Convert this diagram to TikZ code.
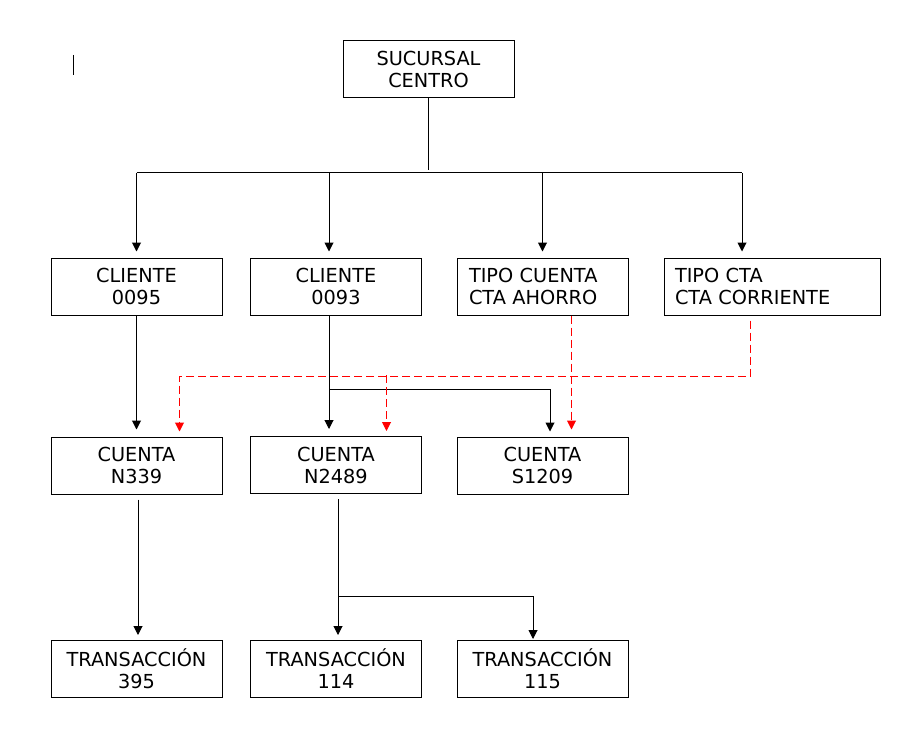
\documentclass[tikz,border=0pt]{standalone}
\usepackage{fontspec}
\setmainfont{DejaVu Sans}
\usetikzlibrary{arrows.meta,positioning,calc}

\tikzset{
  caja/.style={draw,line width=1pt,minimum width=171pt,minimum height=57pt,
    align=center,inner sep=0pt,font=\fontsize{19.3}{22}\selectfont},
  linea/.style={line width=1pt},
  flecha/.style={line width=1pt,-{Triangle[width=9pt,length=9pt]}},
  rojo/.style={flecha,red,dash pattern=on 8pt off 4pt}
}

\begin{document}
\begin{tikzpicture}[x=1pt,y=-1pt]
	  	\useasboundingbox (0,0) rectangle (923,730);
	  	% cajas
	  	\node[caja] (sucursal) at (428.5,69.5) {SUCURSAL\\CENTRO};
	  	\node[caja] (cli95) at (136.5,286.5) {CLIENTE\\0095};
	  	\node[caja] (cli93) at (336,286.5) {CLIENTE\\0093};
	  	\node[caja,text width=147pt,align=left] (tipoah) at (542.5,286.5) {TIPO CUENTA\\CTA AHORRO};
	  	\node[caja,minimum width=216pt,text width=194pt,align=left] (tipocc) at (772,286.5) {TIPO CTA\\CTA CORRIENTE};
	  	\node[caja] (cta339) at (136.5,465.5) {CUENTA\\N339};
	  	\node[caja] (cta2489) at (336,465) {CUENTA\\N2489};
	  	\node[caja] (cta1209) at (542.5,465.5) {CUENTA\\S1209};
	  	\node[caja] (tr395) at (136.5,669) {TRANSACCIÓN\\395};
	  	\node[caja] (tr114) at (336,669) {TRANSACCIÓN\\114};
	  	\node[caja] (tr115) at (542.5,669) {TRANSACCIÓN\\115};
	  	\draw[linea] (73,55) -- (73,75);
	  	% sucursal a clientes y tipos
	  	\coordinate (bus) at (428.5,173);
	  	\draw[linea] (sucursal.south) -- ++(0,72);
	  	\draw[linea] (cli95.north |- bus) -- ([xshift=-30pt]tipocc.north |- bus);
	  	\foreach \n/\dx in {cli95/0,cli93/-7,tipoah/0,tipocc/-30}
	  	  \draw[flecha] ([xshift=\dx pt]\n.north |- bus) -- ([xshift=\dx pt,yshift=6pt]\n.north);
	  	% clientes a cuentas
	  	\draw[flecha] (cli95.south) -- ([yshift=7pt]cta339.north);
	  	\draw[flecha] ([xshift=-7pt]cli93.south) -- ([xshift=-7pt,yshift=7pt]cta2489.north);
	  	\draw[flecha] ([xshift=-7pt]cli93.south) ++(0,74) -| ([xshift=7.5pt,yshift=5pt]cta1209.north);
	  	% tipos a cuentas
	  	\draw[rojo] ([xshift=29pt]tipoah.south) -- ([xshift=29pt,yshift=7pt]cta1209.north);
	  	\draw[rojo] ([xshift=-21.5pt,yshift=-5pt]tipocc.south) -- ++(0,55.5) -| ([xshift=43pt,yshift=5pt]cta339.north);
	  	\draw[rojo] ([xshift=50.5pt]cta2489.north) ++(0,-61) -- ([xshift=50.5pt,yshift=5pt]cta2489.north);
	  	% cuentas a transacciones
	  	\draw[flecha] ([xshift=1.5pt,yshift=-5pt]cta339.south) -- ([xshift=1.5pt,yshift=5pt]tr395.north);
	  	\draw[flecha] ([xshift=2pt,yshift=-5pt]cta2489.south) -- ([xshift=2pt,yshift=5pt]tr114.north);
	  	\draw[flecha] ([xshift=2pt,yshift=-5pt]cta2489.south) ++(0,97) -| ([xshift=-9.5pt,yshift=1pt]tr115.north);
\end{tikzpicture}
\end{document}
